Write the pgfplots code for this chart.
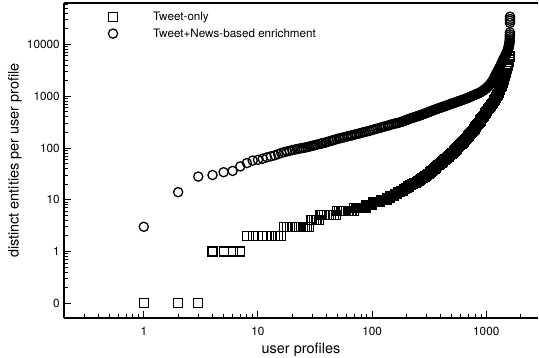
\documentclass[border=0pt]{standalone}
\usepackage{pgfplots}
\pgfplotsset{compat=1.18}
\usepackage{fontspec}
\setmainfont{TeX Gyre Heros}
\pgfplotstableread{
x y
1 0.1
2 0.1
3 0.1
4 1
5 1
6 1
7 1
8 2
9 2
10 2
11 2
12 2
13 2
14 2
15 2
16 2
17 3
18 3
19 3
20 3
21 3
22 3
23 3
24 3
25 3
26 3
27 3
28 3
29 4
30 4
31 4
32 4
33 4
34 4
35 5
36 5
38 5
40 5
42 5
44 5
46 5
48 5
49 6
51 6
53 6
55 6
57 6
59 6
61 6
63 6
65 6
67 6
69 6
70 7
72 7
74 7
76 7
78 7
80 7
82 7
84 7
86 7
88 7
89 8
91 8
93 8
95 8
97 8
100 8
101 9
104 9
107 9
110 9
113 9
116 9
118 9
119 10
122 10
125 10
128 10
131 10
134 10
135 11
138 11
142 11
143 12
146 12
149 12
152 12
155 12
158 13
162 13
166 13
170 14
174 14
178 15
182 15
186 15
190 16
194 16
198 17
202 17
206 18
210 18
214 19
219 19
224 20
229 20
234 21
240 21
246 22
252 23
258 23
264 24
270 25
276 26
283 27
288 28
293 29
298 29
303 30
308 31
314 32
320 33
325 34
330 35
336 36
342 37
348 39
354 40
360 41
366 43
373 44
380 46
386 47
393 49
400 51
407 52
414 54
421 56
429 58
436 60
444 62
451 64
459 66
467 68
475 71
483 73
492 76
500 78
509 81
518 84
527 87
534 90
540 92
549 95
558 99
569 103
580 108
590 113
600 118
610 122
620 126
631 131
642 136
653 142
664 148
675 154
687 160
699 168
711 176
723 184
736 193
749 203
762 214
775 225
789 236
802 248
816 260
830 275
845 290
860 306
875 322
890 339
905 356
921 375
937 393
953 418
970 445
985 467
1000 490
1020 520
1040 555
1060 595
1080 625
1100 660
1120 700
1140 740
1160 795
1180 850
1195 885
1210 920
1225 960
1240 1000
1255 1050
1270 1100
1285 1160
1300 1230
1315 1310
1330 1400
1345 1500
1360 1600
1375 1710
1390 1830
1405 1960
1420 2100
1435 2270
1450 2450
1465 2640
1480 2850
1495 3070
1510 3300
1525 3590
1540 3900
1555 4230
1570 4600
1580 4950
1590 5300
1598 5650
1605 6000
}\tweetonly
\pgfplotstableread{
x y
1 3
2 14
3 28
4 30
5 34
6 36
7 44
8 51
9 57
10 59
11 62
12 66
13 69
14 72
15 76
16 80
17 83
18 86
19 88
20 91
21 93
22 95
23 97
24 99
25 100
26 102
27 104
28 106
29 108
30 110
31 112
32 114
33 116
35 120
36 122
37 124
39 127
40 130
42 134
44 138
45 140
47 144
49 148
51 152
53 155
55 158
57 161
60 166
62 169
65 173
67 176
70 181
73 185
76 189
79 193
82 198
85 202
88 206
92 211
96 216
100 222
104 228
108 233
112 238
117 245
121 250
126 256
131 263
137 270
142 277
148 284
154 291
160 297
166 302
173 309
180 318
184 323
187 328
191 333
195 339
199 345
203 351
207 357
211 363
215 368
219 374
224 380
228 385
233 390
237 396
242 401
247 407
252 413
257 419
262 425
267 431
272 438
278 445
283 452
289 460
294 467
300 475
306 483
312 491
318 499
325 508
331 517
338 526
344 535
351 544
358 553
365 562
372 571
380 580
387 589
395 598
403 607
411 616
420 625
428 635
436 645
445 655
454 665
463 676
472 686
481 697
490 707
500 718
510 729
520 740
530 751
541 763
552 775
563 787
574 799
585 811
597 824
609 837
621 850
633 863
646 876
659 890
672 904
685 919
698 936
712 954
726 972
741 991
755 1010
770 1029
785 1049
801 1069
817 1089
833 1110
850 1130
867 1150
884 1177
901 1205
919 1240
937 1275
956 1315
975 1355
988 1385
1000 1420
1016 1470
1032 1520
1050 1585
1069 1650
1088 1725
1106 1800
1120 1875
1134 1950
1146 2040
1157 2130
1170 2225
1182 2320
1194 2425
1206 2530
1218 2645
1231 2760
1244 2885
1257 3010
1270 3145
1283 3280
1296 3430
1310 3580
1322 3740
1335 3900
1347 4075
1359 4250
1371 4445
1383 4640
1395 4850
1408 5060
1423 5290
1438 5520
1453 5770
1469 6020
1482 6290
1496 6560
1508 6850
1521 7150
1533 7470
1546 7800
1556 8150
1565 8500
1571 8900
1577 9300
1583 9700
1588 10100
1594 10550
1600 11000
1603 12000
1606 13100
1608 14300
1610 15600
1612 17100
1614 26000
1615 28600
1615 31000
1616 34300
}\tweetnews
\begin{document}
\begin{tikzpicture}
\begin{axis}[
  name=ax,
  scale only axis, width=474bp, height=315bp,
  xmode=log, ymode=log,
  xmin=0.2, xmax=2840, ymin=0.052, ymax=63000,
  axis lines*=left,
  axis line style={line width=1.3bp},
  tick align=inside,
  major tick length=7.5bp, minor tick length=4bp,
  every tick/.style={black, line width=0.9bp},
  xtick={1,10,100,1000}, xticklabels={1,10,100,1000},
  minor xtick={0.3,0.4,0.5,0.6,0.7,0.8,0.9,2,3,4,5,6,7,8,9,20,30,40,50,60,70,80,90,200,300,400,500,600,700,800,900,2000},
  ytick={0.1,1,10,100,1000,10000}, yticklabels={0,1,10,100,1000,10000},
  minor ytick={0.2,0.3,0.4,0.5,0.6,0.7,0.8,0.9,2,3,4,5,6,7,8,9,20,30,40,50,60,70,80,90,200,300,400,500,600,700,800,900,2000,3000,4000,5000,6000,7000,8000,9000,20000,30000,40000,50000,60000},
  tick label style={font=\fontsize{11.8}{14}\selectfont},
  xticklabel style={yshift=-5.5bp},
  yticklabel style={xshift=-0.8bp},
  label style={font=\fontsize{14.5}{17}\selectfont},
  xlabel={user profiles},
  xlabel style={at={(axis description cs:0.5,-0.1016)}, anchor=center},
  ylabel={distinct entities per user profile},
  ylabel style={at={(axis description cs:-0.1034,0.5)}, anchor=center},
  legend style={at={(axis description cs:0.0937,0.981)}, anchor=north west, draw=none, fill=none, inner sep=0pt, outer sep=0pt, nodes={inner sep=0pt, font=\fontsize{11.7}{14}\selectfont}, column sep=4bp, row sep=0pt},
  legend cell align=left,
  legend image code/.code={\path (0bp,-8bp) (36bp,8bp); \draw[#1] plot coordinates {(0bp,0bp)};},
]
\addplot[only marks, mark=square, mark size=4.5bp, mark options={line width=1.15bp, fill=none, draw=black}] table {\tweetonly};
\addlegendentry{Tweet-only}
\addplot[only marks, mark=o, mark size=4.6bp, mark options={line width=1.3bp, fill=none, draw=black}] table {\tweetnews};
\addlegendentry{Tweet+News-based enrichment}
\draw[line width=1.3bp] (rel axis cs:0,1) -- (rel axis cs:1,1);
\end{axis}
\pgfresetboundingbox
\path ([shift={(-64bp,-40bp)}]ax.south west) rectangle ([shift={(1bp,3bp)}]ax.north east);
\end{tikzpicture}
\end{document}
